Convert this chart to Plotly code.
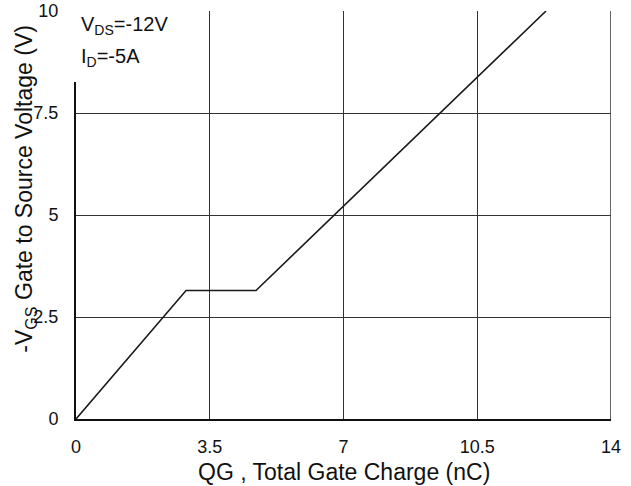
import plotly.graph_objects as go

# Gate charge characteristic: -VGS versus total gate charge QG
qg_nc = [0.0, 2.88, 4.71, 12.3]
vgs_v = [0.0, 3.15, 3.15, 10.0]

x_ticks = [0, 3.5, 7, 10.5, 14]
x_tick_text = ["0", "3.5", "7", "10.5", "14"]
y_ticks = [0, 2.5, 5, 7.5, 10]
y_tick_text = ["0", "2.5", "5", "7.5", "10"]

FONT = "Liberation Sans, Arial, sans-serif"

fig = go.Figure()
fig.add_trace(go.Scatter(
    x=qg_nc, y=vgs_v, mode="lines",
    line=dict(color="#1a1a1a", width=1.6),
    hoverinfo="skip", showlegend=False,
))

fig.update_layout(
    width=631, height=486,
    margin=dict(l=76, r=20, t=11, b=67),
    paper_bgcolor="white", plot_bgcolor="white",
    font=dict(family=FONT, color="#111111"),
    showlegend=False,
)

fig.update_xaxes(
    range=[0, 14], tickvals=x_ticks, ticktext=x_tick_text,
    showgrid=True, gridcolor="#333333", gridwidth=1,
    showline=True, linecolor="#111111", linewidth=2,
    ticks="", ticklabelstandoff=10, automargin=False,
    tickfont=dict(size=18, family=FONT, color="#111111"),
    zeroline=False,
)
fig.update_yaxes(
    range=[0, 10], tickvals=y_ticks, ticktext=y_tick_text,
    showgrid=True, gridcolor="#333333", gridwidth=1,
    showline=True, linecolor="#111111", linewidth=2,
    ticks="", ticklabelstandoff=12, automargin=False,
    tickfont=dict(size=18, family=FONT, color="#111111"),
    zeroline=False,
)

# right-hand frame edge at QG = 14
fig.add_shape(type="line", xref="x", yref="paper", x0=14, x1=14, y0=0, y1=1,
              line=dict(color="#333333", width=1.5))

# white panel behind the test-condition text
fig.add_shape(type="rect", xref="paper", yref="paper",
              x0=-0.012, x1=0.2, y0=0.826, y1=1.03,
              fillcolor="white", line=dict(width=0), layer="above")

fig.add_annotation(text="V<sub>DS</sub>=-12V", xref="paper", yref="paper",
                   x=0.005, y=0.965, xanchor="left", yanchor="middle",
                   showarrow=False, font=dict(size=20, family=FONT, color="#111111"))
fig.add_annotation(text="I<sub>D</sub>=-5A", xref="paper", yref="paper",
                   x=0.005, y=0.885, xanchor="left", yanchor="middle",
                   showarrow=False, font=dict(size=20, family=FONT, color="#111111"))

# axis titles
fig.add_annotation(text="QG , Total Gate Charge (nC)", xref="paper", yref="paper",
                   x=0.5, y=-0.13, xanchor="center", yanchor="middle",
                   showarrow=False, font=dict(size=23, family=FONT, color="#111111"))
fig.add_annotation(text="-V<sub>GS</sub> Gate to Source Voltage (V)",
                   xref="paper", yref="paper", textangle=-90,
                   x=-0.095, y=0.565, xanchor="center", yanchor="middle",
                   showarrow=False, font=dict(size=23, family=FONT, color="#111111"))

fig.write_html("out.html")
